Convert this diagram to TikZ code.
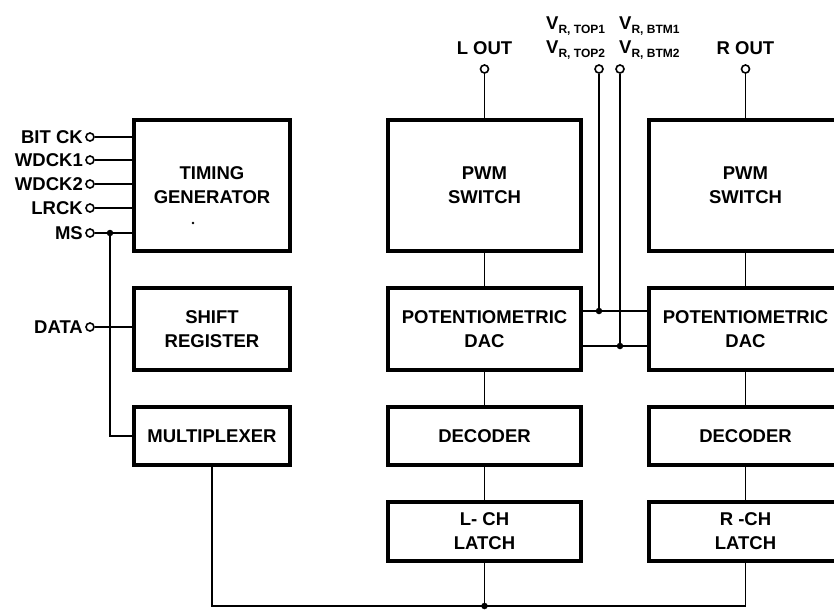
\documentclass[tikz,border=0pt]{standalone}
\usepackage{fontspec}
\setmainfont{Liberation Sans}
\begin{document}
\begin{tikzpicture}[x=1pt,y=-1pt,
  blk/.style={draw,line width=3.2pt,inner sep=0pt,outer sep=0pt,align=center,
    font=\fontsize{18.5}{24}\selectfont\bfseries},
  wire/.style={line width=1.6pt},
  pin/.style={circle,draw,line width=1.6pt,inner sep=0pt,minimum size=8pt,fill=white},
  lbl/.style={font=\fontsize{18.5}{20}\selectfont\bfseries,inner sep=0pt},
  jdot/.style={circle,fill,inner sep=0pt,minimum size=6.5pt}]
\newcommand\subs[1]{\raisebox{-4.5pt}{\fontsize{12}{12}\selectfont\bfseries #1}}
\useasboundingbox (0,0) rectangle (834,611);
\clip (0,0) rectangle (834,611);
% left column
\node[blk,minimum width=156pt,minimum height=131pt] (tg) at (212,185.5) {TIMING\\GENERATOR};
\node[blk,minimum width=156pt,minimum height=82pt] (sr) at (212,329) {SHIFT\\REGISTER};
\node[blk,minimum width=156pt,minimum height=58pt] (mux) at (212,436) {MULTIPLEXER};
\fill (193,223) circle (1.3pt);
% L column
\node[blk,minimum width=193pt,minimum height=131pt] (pwmL) at (484.5,185.5) {PWM\\SWITCH};
\node[blk,minimum width=193pt,minimum height=82pt] (dacL) at (484.5,329) {POTENTIOMETRIC\\DAC};
\node[blk,minimum width=193pt,minimum height=58pt] (decL) at (484.5,436) {DECODER};
\node[blk,minimum width=193pt,minimum height=59pt] (latL) at (484.5,531.5) {L- CH\\LATCH};
% R column
\node[blk,minimum width=193pt,minimum height=131pt] (pwmR) at (745.5,185.5) {PWM\\SWITCH};
\node[blk,minimum width=193pt,minimum height=82pt] (dacR) at (745.5,329) {POTENTIOMETRIC\\DAC};
\node[blk,minimum width=193pt,minimum height=58pt] (decR) at (745.5,436) {DECODER};
\node[blk,minimum width=193pt,minimum height=59pt] (latR) at (745.5,531.5) {R -CH\\LATCH};
% left pins
\foreach \n/\t/\yy in {bitck/BIT CK/137, wdck1/WDCK1/160, wdck2/WDCK2/184, lrck/LRCK/208, ms/MS/233}{
  \node[lbl,anchor=east] (l\n) at (83,\yy) {\t};
  \node[pin] (\n) at (90,\yy) {};
}
\node[lbl,anchor=east] (ldata) at (83,327) {DATA};
\node[pin] (data) at (90,327) {};
\foreach \n in {bitck,wdck1,wdck2,lrck,ms}{
  \draw[wire] (\n) -- (\n -| tg.west);
}
\draw[wire] (data) -- (data -| sr.west);
\node[jdot] (msj) at (110,233) {};
\draw[wire] (msj.center) |- (mux.west);
% top pins
\node[lbl,anchor=base] (loutl) at (484.5,54) {L OUT};
\node[lbl,anchor=base] (routl) at (745.5,54) {R OUT};
\node[lbl,anchor=base west] (vt1) at (546,29) {V\subs{R, TOP1}};
\node[lbl,anchor=base west] (vt2) at (546,53) {V\subs{R, TOP2}};
\node[lbl,anchor=base west] (vb1) at (619,29) {V\subs{R, BTM1}};
\node[lbl,anchor=base west] (vb2) at (619,53) {V\subs{R, BTM2}};
\node[pin] (lout) at (484.5,69) {};
\node[pin] (rout) at (745.5,69) {};
\node[pin] (vt) at (599,69) {};
\node[pin] (vb) at (620,69) {};
\draw[wire] (lout) -- (pwmL.north);
\draw[wire] (rout) -- (pwmR.north);
\node[jdot] (j1) at (599,311) {};
\node[jdot] (j2) at (620,346) {};
\draw[wire] (vt) -- (j1.center);
\draw[wire] (vb) -- (j2.center);
\draw[wire] (j1.center -| dacL.east) -- (j1.center -| dacR.west);
\draw[wire] (j2.center -| dacL.east) -- (j2.center -| dacR.west);
% column links
\draw[wire] (pwmL) -- (dacL);
\draw[wire] (dacL) -- (decL);
\draw[wire] (decL) -- (latL);
\draw[wire] (pwmR) -- (dacR);
\draw[wire] (dacR) -- (decR);
\draw[wire] (decR) -- (latR);
% bus
\coordinate (busR) at (745.5,606);
\node[jdot] (busL) at (484.5,606) {};
\draw[wire] (mux.south) |- (busR) -- (latR.south);
\draw[wire] (latL.south) -- (busL.center);
\end{tikzpicture}
\end{document}
